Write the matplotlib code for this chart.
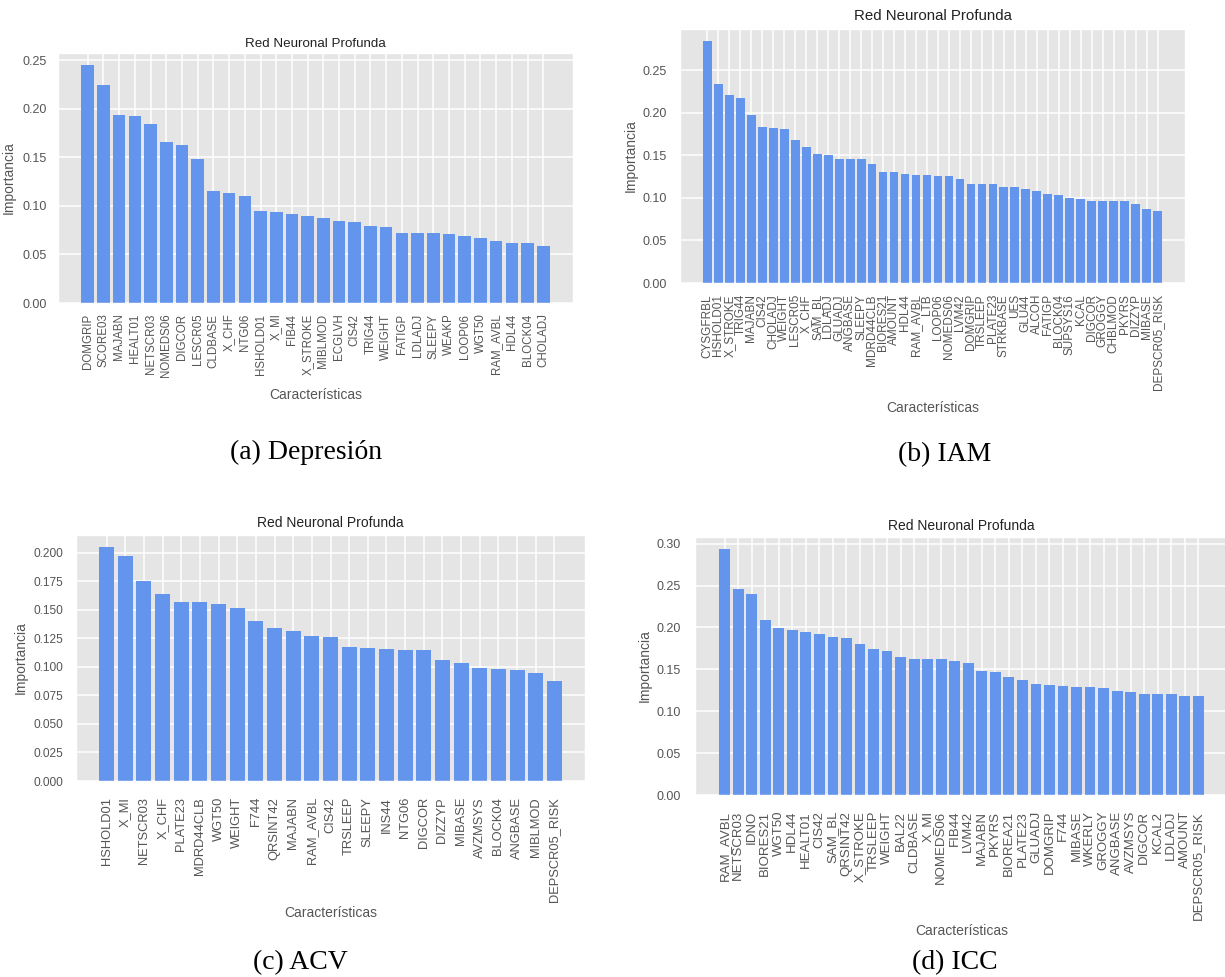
import matplotlib

matplotlib.use("Agg")
import matplotlib.pyplot as plt

plt.style.use("ggplot")
plt.rcParams["font.family"] = ["Liberation Sans", "DejaVu Sans"]

W, H = 1225, 977

# (a) Depresión
dep_names = ["DOMGRIP", "SCORE03", "MAJABN", "HEALT01", "NETSCR03", "NOMEDS06", "DIGCOR",
             "LESCR05", "CLDBASE", "X_CHF", "NTG06", "HSHOLD01", "X_MI", "FIB44", "X_STROKE",
             "MIBLMOD", "ECGLVH", "CIS42", "TRIG44", "WEIGHT", "FATIGP", "LDLADJ", "SLEEPY",
             "WEAKP", "LOOP06", "WGT50", "RAM_AVBL", "HDL44", "BLOCK04", "CHOLADJ"]
dep_values = [0.245, 0.224, 0.1935, 0.1924, 0.1842, 0.166, 0.1625, 0.1481, 0.1155, 0.1127,
              0.1096, 0.0948, 0.0938, 0.0914, 0.0897, 0.0873, 0.0845, 0.0838, 0.0794, 0.0777,
              0.0725, 0.0725, 0.0718, 0.0711, 0.0687, 0.0673, 0.0643, 0.0619, 0.0619, 0.0591]

# (b) IAM
iam_names = ["CYSGFRBL", "HSHOLD01", "X_STROKE", "TRIG44", "MAJABN", "CIS42", "CHOLADJ",
             "WEIGHT", "LESCR05", "X_CHF", "SAM_BL", "LDLADJ", "GLUADJ", "ANGBASE", "SLEEPY",
             "MDRD44CLB", "BIORES21", "AMOUNT", "HDL44", "RAM_AVBL", "LTB", "LOOP06",
             "NOMEDS06", "LVM42", "DOMGRIP", "TRSLEEP", "PLATE23", "STRKBASE", "UES", "GLU44",
             "ALCOH", "FATIGP", "BLOCK04", "SUPSYS16", "KCAL", "DIGCOR", "GROGGY", "CHBLMOD",
             "PKYRS", "DIZZYP", "MIBASE", "DEPSCR05_RISK"]
iam_values = [0.2845, 0.2346, 0.2209, 0.217, 0.1971, 0.1835, 0.1823, 0.1815, 0.1686, 0.1596,
              0.1518, 0.1507, 0.146, 0.146, 0.146, 0.1405, 0.1311, 0.13, 0.128, 0.1269,
              0.1269, 0.1257, 0.1257, 0.1222, 0.1167, 0.1167, 0.1167, 0.1132, 0.1124, 0.1109,
              0.1081, 0.105, 0.103, 0.1003, 0.0991, 0.0968, 0.096, 0.096, 0.096, 0.0933,
              0.087, 0.0851]

# (c) ACV
acv_names = ["HSHOLD01", "X_MI", "NETSCR03", "X_CHF", "PLATE23", "MDRD44CLB", "WGT50",
             "WEIGHT", "F744", "QRSINT42", "MAJABN", "RAM_AVBL", "CIS42", "TRSLEEP", "SLEEPY",
             "INS44", "NTG06", "DIGCOR", "DIZZYP", "MIBASE", "AVZMSYS", "BLOCK04", "ANGBASE",
             "MIBLMOD", "DEPSCR05_RISK"]
acv_values = [0.2052, 0.197, 0.1749, 0.1636, 0.1572, 0.1572, 0.1551, 0.1519, 0.14, 0.1336,
              0.1315, 0.1269, 0.126, 0.1176, 0.1161, 0.1155, 0.1147, 0.1147, 0.1062, 0.1033,
              0.0992, 0.0984, 0.0969, 0.0949, 0.0876]

# (d) ICC
icc_names = ["RAM_AVBL", "NETSCR03", "IDNO", "BIORES21", "WGT50", "HDL44", "HEALT01", "CIS42",
             "SAM_BL", "QRSINT42", "X_STROKE", "TRSLEEP", "WEIGHT", "BAL22", "CLDBASE", "X_MI",
             "NOMEDS06", "FIB44", "LVM42", "MAJABN", "PKYRS", "BIOREA21", "PLATE23", "GLUADJ",
             "DOMGRIP", "F744", "MIBASE", "WKERLY", "GROGGY", "ANGBASE", "AVZMSYS", "DIGCOR",
             "KCAL2", "LDLADJ", "AMOUNT", "DEPSCR05_RISK"]
icc_values = [0.2933, 0.2458, 0.2399, 0.2083, 0.1992, 0.1972, 0.1945, 0.1917, 0.1889, 0.187,
              0.1806, 0.1739, 0.1719, 0.1648, 0.1625, 0.1625, 0.1625, 0.1605, 0.1573, 0.1482,
              0.147, 0.1411, 0.1372, 0.1328, 0.1316, 0.13, 0.1289, 0.1289, 0.1281, 0.1237,
              0.1225, 0.1206, 0.1206, 0.1206, 0.1186, 0.1178]

captions = ["(a) Depresión", "(b) IAM", "(c) ACV", "(d) ICC"]


def px_box(left, top, right, bottom):
    return [left / W, 1 - bottom / H, (right - left) / W, (bottom - top) / H]


def draw_panel(fig, names, values, box, xsize, ysize, tsize, xpad, ypad, tpad, xlab_top, ylab_right):
    left, top, right, bottom = box
    ax = fig.add_axes(px_box(left, top, right, bottom))
    ax.bar(names, values, color="cornflowerblue", width=0.8)
    ax.set_title("Red Neuronal Profunda", fontsize=tsize, color="#222222", pad=tpad)
    ax.set_xlabel("Características", fontsize=10, color="#555555")
    ax.set_ylabel("Importancia", fontsize=10, color="#555555")
    ax.tick_params(axis="x", labelrotation=90, labelsize=xsize, length=0, pad=xpad, colors="#555555")
    ax.tick_params(axis="y", labelsize=ysize, length=0, pad=ypad, colors="#555555")
    ax.grid(color="white", linewidth=1.1)
    ax.xaxis.set_label_coords(0.5, -(xlab_top - bottom) / (bottom - top))
    ax.yaxis.set_label_coords(-(left - ylab_right) / (right - left), 0.5)
    return ax


fig = plt.figure(figsize=(W / 100, H / 100), dpi=100)
fig.patch.set_facecolor("white")

draw_panel(fig, dep_names, dep_values, (58, 53, 573, 303), 8.3, 9, 9.6, 7.6, 7.9, 4.5, 388, 16)
draw_panel(fig, iam_names, iam_values, (680, 29, 1185, 283), 8.5, 9, 10.8, 8, 9.4, 6.2, 401, 638)
draw_panel(fig, acv_names, acv_values, (76, 535, 585, 781), 9.3, 8.6, 10, 11.5, 9.4, 5.8, 906, 28)
draw_panel(fig, icc_names, icc_values, (695, 537, 1228, 795), 9.5, 9, 10, 11.5, 10, 5, 924, 652)

cap_pos = [(306, 452), (945, 455), (300, 963), (955, 963)]
for text, (cx, cy) in zip(captions, cap_pos):
    fig.text(cx / W, 1 - cy / H, text, ha="center", va="center",
             family=["Liberation Serif", "DejaVu Serif"], fontsize=20, color="black")

plt.savefig("out.png", dpi=100)
